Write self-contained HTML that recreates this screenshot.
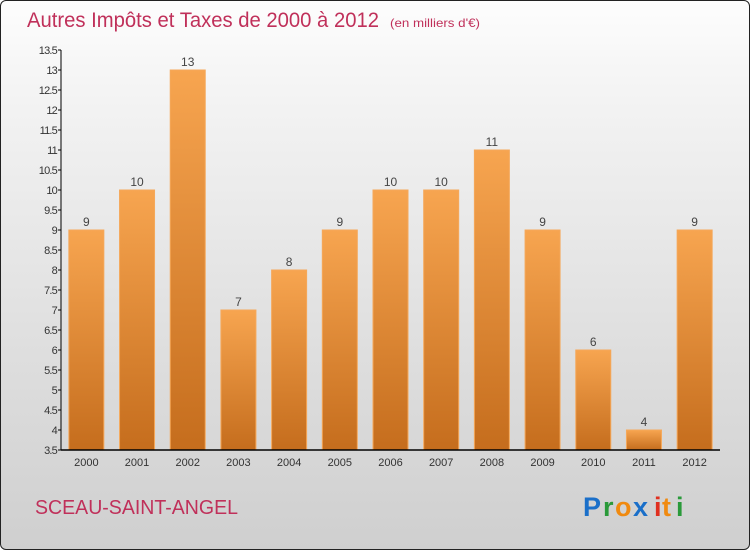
<!DOCTYPE html>
<html><head><meta charset="utf-8"><style>
body{margin:0;width:750px;height:550px;overflow:hidden;font-family:"Liberation Sans",sans-serif}
#frame{position:absolute;left:0;top:0;width:748px;height:548px;border:1px solid #222;border-radius:6px;background:linear-gradient(#fdfdfd,#f2f2f2 20%,#e0e0e0 60%,#cfcfcf)}
</style></head><body>
<div id="frame"></div>
<svg width="750" height="550" style="position:absolute;left:0;top:0">
<defs>
<linearGradient id="bg" x1="0" y1="0" x2="0" y2="1"><stop offset="0" stop-color="#f7a550"/><stop offset="1" stop-color="#c56d1d"/></linearGradient>
</defs>
<text x="27" y="27" font-size="21" fill="#c0305a" textLength="352" lengthAdjust="spacingAndGlyphs">Autres Impôts et Taxes de 2000 à 2012</text>
<text x="390" y="27" font-size="12" fill="#c0305a" textLength="90" lengthAdjust="spacingAndGlyphs">(en milliers d'€)</text>
<g id="bars"></g>
<g id="axes"></g>
<text x="35" y="514" font-size="20" fill="#c0305a" textLength="203" lengthAdjust="spacingAndGlyphs">SCEAU-SAINT-ANGEL</text>
<g font-size="27" font-family="Liberation Sans,sans-serif" font-weight="bold">
<text x="583" y="516" fill="#1a6fc9">P</text><text x="603" y="516" fill="#2a9a3a">r</text><text x="615" y="516" fill="#f08a10">o</text><text x="633" y="516" fill="#1a6fc9">x</text><text x="654" y="516" fill="#e03020">i</text><text x="662" y="516" fill="#f08a10">t</text><text x="676" y="516" fill="#2a9a3a">i</text>
</g>
</svg>
<script>
const years=["2000","2001","2002","2003","2004","2005","2006","2007","2008","2009","2010","2011","2012"];
const values=[9,10,13,7,8,9,10,10,11,9,6,4,9];
const yTicks=[3.5,4,4.5,5,5.5,6,6.5,7,7.5,8,8.5,9,9.5,10,10.5,11,11.5,12,12.5,13,13.5];
const NS="http://www.w3.org/2000/svg";
const x0=61,x1=720,yTop=50,yBot=450,yMin=3.5,yMax=13.5;
const band=(x1-x0)/years.length;
const yS=v=>yBot-(v-yMin)/(yMax-yMin)*(yBot-yTop);
const xS=i=>x0+band*i+band/2;
function mk(tag,attrs,parent,txt){const e=document.createElementNS(NS,tag);for(const k in attrs)e.setAttribute(k,attrs[k]);if(txt!=null)e.textContent=txt;parent.appendChild(e);return e;}
const bars=document.getElementById('bars'),axes=document.getElementById('axes');
values.forEach((v,i)=>{
 const cx=xS(i),w=35,y=yS(v);
 const r=mk('rect',{x:cx-w/2,y:y,width:w,height:yBot-y,fill:'url(#bg)',stroke:'#f5a85a','stroke-width':1},bars);
 
 
 const t=mk('text',{x:cx,y:y-4,'text-anchor':'middle','font-size':12,fill:'#444'},bars,String(v));
 
 
 const xl=mk('text',{x:cx,y:466,'text-anchor':'middle','font-size':11,fill:'#333'},axes,years[i]);
 
 
});
const ya=mk('line',{x1:x0,y1:yTop,x2:x0,y2:yBot,stroke:'#000'},axes);


const xa=mk('line',{x1:x0,y1:yBot,x2:x1,y2:yBot,stroke:'#000','stroke-width':1.5},axes);


yTicks.forEach(v=>{
 const y=yS(v);
 mk('line',{x1:x0-3,y1:y,x2:x0,y2:y,stroke:'#000'},axes);
 const t=mk('text',{x:x0-4,y:y+4,'text-anchor':'end','font-size':11,fill:'#333','letter-spacing':-0.8},axes,String(v));
 
 
});
</script>
</body></html>
